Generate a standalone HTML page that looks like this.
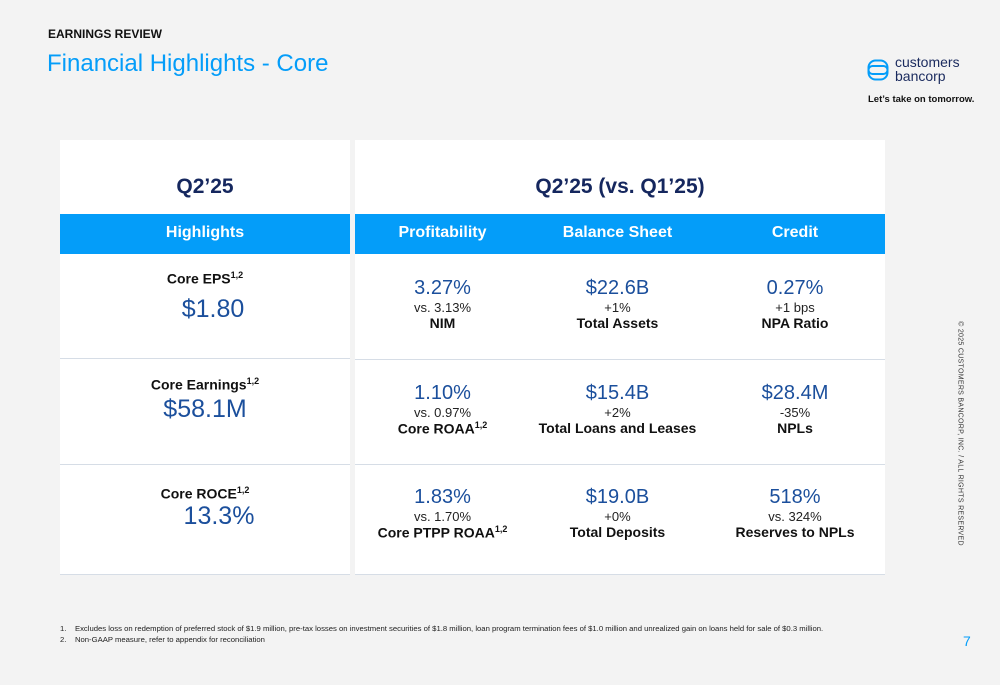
<!DOCTYPE html>
<html><head><meta charset="utf-8"><style>
body{margin:0;width:1000px;height:685px;background:#f3f3f3;font-family:"Liberation Sans",sans-serif;position:relative;overflow:hidden}
.a{position:absolute}
.c{text-align:center}
.panel{position:absolute;background:#fff;top:140px;height:435px}
.bar{position:absolute;top:214px;height:40px;background:#049df9}
.bh{position:absolute;top:224px;color:#fff;font-size:16px;font-weight:bold;text-align:center}
.big{color:#1b4f9c;font-size:20px}
.sm{color:#222;font-size:13px}
.lb{color:#111;font-size:14px;font-weight:bold}
.hr{position:absolute;height:1px;background:#d6dde6}
sup{font-size:9px}
</style></head><body>
<div class="a" style="left:48px;top:27px;font-size:12px;font-weight:bold;color:#111">EARNINGS REVIEW</div>
<div class="a" style="left:47px;top:50px;font-size:24px;color:#049df9">Financial Highlights - Core</div>
<svg class="a" style="left:867px;top:59px" width="22" height="22" viewBox="0 0 22 22"><rect x="1.5" y="1.5" width="19" height="19" rx="7" fill="none" stroke="#049df9" stroke-width="2"/><rect x="1.5" y="7" width="19" height="8" rx="4" fill="none" stroke="#049df9" stroke-width="2"/></svg>
<div class="a" style="left:895px;top:55px;font-size:14px;line-height:14px;color:#1a2a5e">customers<br>bancorp</div>
<div class="a" style="left:868px;top:94px;font-size:9.5px;font-weight:bold;color:#111">Let’s take on tomorrow.</div>

<div class="panel" style="left:60px;width:290px"></div>
<div class="panel" style="left:355px;width:530px"></div>
<div class="a c" style="left:60px;width:290px;top:175px;font-size:21px;font-weight:bold;color:#15275e">Q2’25</div>
<div class="a c" style="left:355px;width:530px;top:175px;font-size:21px;font-weight:bold;color:#15275e">Q2’25 (vs. Q1’25)</div>
<div class="bar" style="left:60px;width:290px"></div>
<div class="bar" style="left:355px;width:530px"></div>
<div class="bh" style="left:60px;width:290px">Highlights</div>
<div class="bh" style="left:355px;width:175px">Profitability</div>
<div class="bh" style="left:530px;width:175px">Balance Sheet</div>
<div class="bh" style="left:705px;width:180px">Credit</div>

<div class="hr" style="left:60px;width:290px;top:358px"></div><div class="hr" style="left:355px;width:530px;top:359px"></div>
<div class="hr" style="left:60px;width:290px;top:464px"></div><div class="hr" style="left:355px;width:530px;top:464px"></div>
<div class="hr" style="left:60px;width:290px;top:574px"></div><div class="hr" style="left:355px;width:530px;top:574px"></div>

<div class="a c" style="left:60px;width:290px;top:270px"><div class="lb">Core EPS<sup>1,2</sup></div><div class="big" style="font-size:25px;margin-top:8px;padding-left:16px">$1.80</div></div>
<div class="a c" style="left:60px;width:290px;top:376px"><div class="lb">Core Earnings<sup>1,2</sup></div><div class="big" style="font-size:25px;margin-top:2px">$58.1M</div></div>
<div class="a c" style="left:60px;width:290px;top:485px"><div class="lb">Core ROCE<sup>1,2</sup></div><div class="big" style="font-size:25px;margin-top:0;padding-left:28px">13.3%</div></div>

<div class="a c" style="left:355px;width:175px;top:277px"><div class="big">3.27%</div><div class="sm">vs. 3.13%</div><div class="lb">NIM</div></div>
<div class="a c" style="left:530px;width:175px;top:277px"><div class="big">$22.6B</div><div class="sm">+1%</div><div class="lb">Total Assets</div></div>
<div class="a c" style="left:705px;width:180px;top:277px"><div class="big">0.27%</div><div class="sm">+1 bps</div><div class="lb">NPA Ratio</div></div>

<div class="a c" style="left:355px;width:175px;top:382px"><div class="big">1.10%</div><div class="sm">vs. 0.97%</div><div class="lb">Core ROAA<sup>1,2</sup></div></div>
<div class="a c" style="left:530px;width:175px;top:382px"><div class="big">$15.4B</div><div class="sm">+2%</div><div class="lb">Total Loans and Leases</div></div>
<div class="a c" style="left:705px;width:180px;top:382px"><div class="big">$28.4M</div><div class="sm">-35%</div><div class="lb">NPLs</div></div>

<div class="a c" style="left:355px;width:175px;top:486px"><div class="big">1.83%</div><div class="sm">vs. 1.70%</div><div class="lb">Core PTPP ROAA<sup>1,2</sup></div></div>
<div class="a c" style="left:530px;width:175px;top:486px"><div class="big">$19.0B</div><div class="sm">+0%</div><div class="lb">Total Deposits</div></div>
<div class="a c" style="left:705px;width:180px;top:486px"><div class="big">518%</div><div class="sm">vs. 324%</div><div class="lb">Reserves to NPLs</div></div>

<div class="a" style="left:960px;top:430px;width:240px;margin-left:-120px;transform:rotate(90deg);font-size:7px;color:#333;text-align:center;letter-spacing:.3px">© 2025 CUSTOMERS BANCORP, INC. / ALL RIGHTS RESERVED</div>
<div class="a" style="left:60px;top:623px;font-size:7.7px;line-height:11px;color:#222">1.&nbsp;&nbsp;&nbsp;&nbsp;Excludes loss on redemption of preferred stock of $1.9 million, pre-tax losses on investment securities of $1.8 million, loan program termination fees of $1.0 million and unrealized gain on loans held for sale of $0.3 million.<br>2.&nbsp;&nbsp;&nbsp;&nbsp;Non-GAAP measure, refer to appendix for reconciliation</div>
<div class="a" style="left:963px;top:633px;font-size:14px;color:#049df9">7</div>
</body></html>
